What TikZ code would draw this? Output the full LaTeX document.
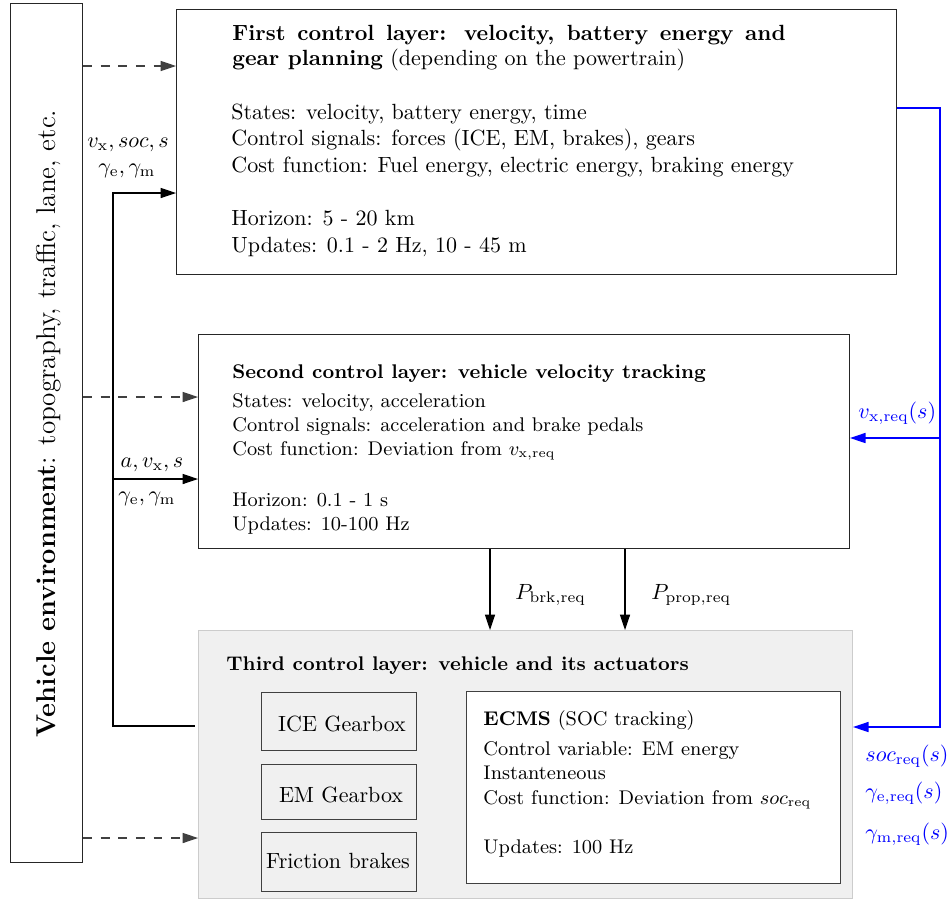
\documentclass[tikz,border=0pt]{standalone}
\usetikzlibrary{arrows.meta}
\begin{document}
\begin{tikzpicture}[x=0.4545pt,y=-0.4545pt,
  box/.style={draw=black!85, line width=0.5pt, inner sep=0pt, anchor=north west},
  sz/.style 2 args={minimum width=#1*0.4545pt, minimum height=#2*0.4545pt},
  txt/.style={inner sep=0pt, anchor=base west},
  lbl/.style={inner sep=0pt, anchor=base},
  arr/.style={-{Triangle[length=7pt,width=4.6pt]}, line width=0.5pt},
  dasharr/.style={arr, dash pattern=on 4pt off 4pt, draw=black!75},
  bluearr/.style={arr, draw=blue, line width=0.5pt}]
\useasboundingbox (0,0) rectangle (951,902);

% environment
\node[box, sz={72}{859}] (env) at (10,3) {};
\node[rotate=90, anchor=base west, inner sep=0pt, font=\fontsize{12.35}{15}\selectfont] (envt) at (55.5,738)
  {\textbf{Vehicle environment}: topography, traffic, lane, etc.};

% first layer
\node[box, sz={720}{265}] (b1) at (176,9) {};
\node[txt] (b1title) at (232,40) {\parbox[t]{251.4pt}{\baselineskip=11.4pt
  \textbf{First control layer: velocity, battery energy and}\linebreak
  \textbf{gear planning} (depending on the powertrain)}};
\node[txt] (b1body) at (231,119) {\parbox[t]{300pt}{\baselineskip=12.1pt
  States: velocity, battery energy, time\\
  Control signals: forces (ICE, EM, brakes), gears\\
  Cost function: Fuel energy, electric energy, braking energy\\[12.1pt]
  Horizon: 5 - 20 km\\
  Updates: 0.1 - 2 Hz, 10 - 45 m}};

% second layer
\node[box, sz={651}{214}] (b2) at (198,334) {};
\node[txt] (b2text) at (232,378) {\parbox[t]{300pt}{\small\baselineskip=11pt
  \textbf{Second control layer: vehicle velocity tracking}\\[2.2pt]
  States: velocity, acceleration\\
  Control signals: acceleration and brake pedals\\
  Cost function: Deviation from $v_{\mathrm{x,req}}$\\[12pt]
  Horizon: 0.1 - 1 s\\
  Updates: 10-100 Hz}};

% third layer
\node[box, fill=black!6, draw=black!20, sz={654}{268}] (b3) at (198,630) {};
\node[txt] (b3title) at (226,670) {\small\bfseries Third control layer: vehicle and its actuators};
\node[box, draw=black!75, sz={155}{58}] (ice) at (261,692) {};
\node[lbl] (icet) at (342,731) {ICE Gearbox};
\node[box, draw=black!75, sz={155}{55}] (em) at (261,764) {};
\node[lbl] (emt) at (341,802) {EM Gearbox};
\node[box, draw=black!75, sz={155}{59}] (fb) at (261,832) {};
\node[lbl] (fbt) at (338,868) {Friction brakes};
\node[box, fill=white, draw=black!75, sz={374}{192}] (ecms) at (466,691) {};
\node[txt] (ecmst) at (483,725) {\parbox[t]{200pt}{\small\baselineskip=11pt
  \textbf{ECMS} (SOC tracking)\\[2.9pt]
  Control variable: EM energy\\
  Instanteneous\\
  Cost function: Deviation from $soc_{\mathrm{req}}$\\[11.7pt]
  Updates: 100 Hz}};

% environment arrows
\draw[dasharr] (env.east |- 0,66) -- (b1.west |- 0,66);
\draw[dasharr] (env.east |- 0,397) -- (b2.west |- 0,397);
\draw[dasharr] (env.east |- 0,838) -- (b3.west |- 0,838);

% feedback from third layer
\coordinate (k1) at (113,726);
\coordinate (k2) at (113,193);
\coordinate (k3) at (113,479);
\draw[arr, shorten <=1.4pt] (b3.west |- k1) -- (k1) -- (k2) -- (b1.west |- k2);
\draw[arr] (k3) -- (b2.west |- k3);
\node[lbl] (l1) at (128,147) {$v_{\mathrm{x}}, soc, s$};
\node[lbl] (l2) at (127,173) {$\gamma_{\mathrm{e}}, \gamma_{\mathrm{m}}$};
\node[lbl] (l3) at (152,467) {$a, v_{\mathrm{x}}, s$};
\node[lbl] (l4) at (147,501) {$\gamma_{\mathrm{e}}, \gamma_{\mathrm{m}}$};

% second to third
\draw[arr] (b2.south -| 490,0) -- (b3.north -| 490,0);
\draw[arr] (b2.south -| 625,0) -- (b3.north -| 625,0);
\node[txt] (pb) at (515,599) {$P_{\mathrm{brk,req}}$};
\node[txt] (pp) at (651,599) {$P_{\mathrm{prop,req}}$};

% blue references
\coordinate (r1) at (940,108);
\coordinate (r2) at (940,727);
\coordinate (r3) at (940,438);
\draw[bluearr] (b1.east |- r1) -- (r1) -- (r2) -- (b3.east |- r2);
\draw[bluearr] (r3) -- (b2.east |- r3);
\node[txt, text=blue] (vr) at (858,418) {$v_{\mathrm{x,req}}(s)$};
\node[txt, text=blue] (sr) at (865,761) {$soc_{\mathrm{req}}(s)$};
\node[txt, text=blue] (ger) at (865,798) {$\gamma_{\mathrm{e,req}}(s)$};
\node[txt, text=blue] (gmr) at (865,839) {$\gamma_{\mathrm{m,req}}(s)$};
\end{tikzpicture}
\end{document}
